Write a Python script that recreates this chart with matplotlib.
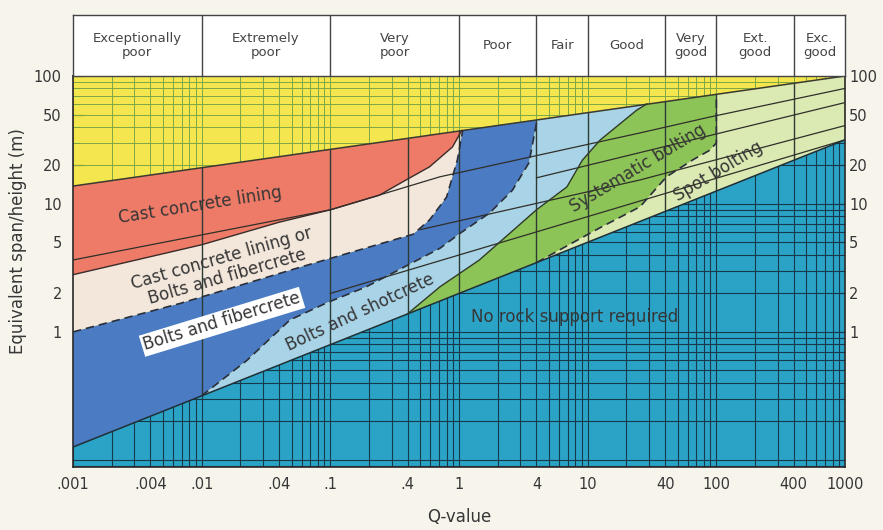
import matplotlib
matplotlib.use("Agg")
import matplotlib.pyplot as plt
from matplotlib.patches import Polygon

# ---------------- data ----------------
class_bounds = [0.001, 0.01, 0.1, 1, 4, 10, 40, 100, 400, 1000]
class_names = ["Exceptionally\npoor", "Extremely\npoor", "Very\npoor", "Poor", "Fair",
               "Good", "Very\ngood", "Ext.\ngood", "Exc.\ngood"]

x_ticks = [0.001, 0.004, 0.01, 0.04, 0.1, 0.4, 1, 4, 10, 40, 100, 400, 1000]
x_tick_labels = [".001", ".004", ".01", ".04", ".1", ".4", "1", "4", "10", "40", "100", "400", "1000"]
y_ticks = [1, 2, 5, 10, 20, 50, 100]
y_tick_labels = ["1", "2", "5", "10", "20", "50", "100"]

# boundary curves (Q, span)
top_q = [0.001, 1000]
top_s = [13.8, 100]
nosup_q = [0.001, 1000]
nosup_s = [0.126, 31.7]
red_white_q = [0.001, 0.01, 0.04, 0.1, 0.24, 0.37, 0.59, 0.89, 1.05]
red_white_s = [2.8, 4.8, 7.2, 9.0, 11.7, 15.0, 19.5, 27.9, 37.5]
white_blue_q = [0.001, 0.0068, 0.058, 0.44, 0.59, 0.80, 0.97, 1.07]
white_blue_s = [1.0, 1.67, 3.2, 5.8, 7.5, 11.3, 22.0, 37.8]
blue_lblue_q = [0.01, 0.0225, 0.0485, 0.094, 0.19, 0.71, 1.02, 1.73, 2.6, 3.5, 4.05]
blue_lblue_s = [0.317, 0.6, 1.24, 1.69, 2.25, 4.5, 5.9, 8.5, 12.8, 21.0, 45.5]
lblue_green_q = [0.4, 0.71, 1.44, 4.0, 6.9, 9.1, 12.5, 24.0, 28.8]
lblue_green_s = [1.39, 2.25, 3.65, 9.0, 13.6, 22.0, 31.6, 54.0, 60.5]
green_lgreen_q = [4.0, 12.4, 25.5, 41, 65, 89, 100, 100]
green_lgreen_s = [3.48, 6.5, 9.5, 16.3, 22.0, 26.3, 30.0, 71.8]

# category lines of the original chart
fan1_q = [0.001, 0.1, 0.71, 25.5, 89, 1000]
fan1_s = [3.65, 9.0, 16.3, 35.9, 47.8, 80]
fan2_q = [4, 1000]
fan2_s = [16.0, 62]
fan3_q = [0.5, 25.5, 1000]
fan3_s = [6.3, 15.4, 41]
fan4_q = [0.1, 1000]
fan4_s = [2.0, 31.7]
major_q = [0.01, 0.1, 0.4, 1, 4, 10, 40, 100, 400]

# ---------------- style ----------------
C_BG = "#f7f4ec"
C_YEL = "#f3e64e"
C_RED = "#ee7b68"
C_WHITE = "#f3e7dc"
C_DBLUE = "#4a7bc3"
C_LBLUE = "#a9d3e6"
C_GREEN = "#8dc457"
C_LGREEN = "#dbe9b3"
C_TEAL = "#2ba3c7"
C_INK = "#363636"

W, H = 883, 530
fig = plt.figure(figsize=(W / 100, H / 100), dpi=100, facecolor=C_BG)
L, R, T, B = 73, 845, 76, 467
ax = fig.add_axes([L / W, 1 - B / H, (R - L) / W, (B - T) / H])
ax.set_xscale("log")
ax.set_yscale("log")
ax.set_xlim(0.001, 1000)
ax.set_ylim(0.088, 100)
ax.set_facecolor(C_YEL)

def pts(q, s):
    return list(zip(q, s))

def rev(q, s):
    return list(zip(q[::-1], s[::-1]))

# teal region
teal_poly = Polygon(pts(nosup_q, nosup_s) + [(1000, 0.05), (0.001, 0.05)],
                    closed=True, facecolor=C_TEAL, edgecolor="none", zorder=1)
ax.add_patch(teal_poly)

# grid
vq = []
for k in range(-3, 3):
    for n in range(1, 10):
        vq.append(n * 10.0 ** k)
vq.append(1000)
hs = []
for k in range(-2, 2):
    for n in range(1, 10):
        hs.append(n * 10.0 ** k)
hs += [100]
ax.vlines(vq, 0.05, 200, colors="#7ea745", linewidth=0.7, zorder=2)
ax.hlines(hs, 0.0005, 2000, colors="#7ea745", linewidth=0.7, zorder=2)
gv = ax.vlines(vq, 0.05, 200, colors="#17394a", linewidth=0.8, zorder=2.1)
gh = ax.hlines(hs, 0.0005, 2000, colors="#17394a", linewidth=0.8, zorder=2.1)
gv.set_clip_path(teal_poly)
gh.set_clip_path(teal_poly)

# support regions
ax.add_patch(Polygon(pts(top_q, top_s)[:1] + [(1.05, 37.4)] + rev(red_white_q, red_white_s),
                     closed=True, facecolor=C_RED, edgecolor="none", zorder=3))
ax.add_patch(Polygon(pts(red_white_q, red_white_s) + rev(white_blue_q, white_blue_s),
                     closed=True, facecolor=C_WHITE, edgecolor="none", zorder=3))
ax.add_patch(Polygon([(0.001, 0.126)] + pts(white_blue_q, white_blue_s) +
                     rev(blue_lblue_q, blue_lblue_s),
                     closed=True, facecolor=C_DBLUE, edgecolor="none", zorder=3))
ax.add_patch(Polygon(pts(blue_lblue_q, blue_lblue_s) + rev(lblue_green_q, lblue_green_s),
                     closed=True, facecolor=C_LBLUE, edgecolor="none", zorder=3))
ax.add_patch(Polygon(pts(lblue_green_q, lblue_green_s) + [(100, 71.8)] +
                     rev(green_lgreen_q, green_lgreen_s),
                     closed=True, facecolor=C_GREEN, edgecolor="none", zorder=3))
ax.add_patch(Polygon(pts(green_lgreen_q, green_lgreen_s) + [(1000, 100), (1000, 31.7)],
                     closed=True, facecolor=C_LGREEN, edgecolor="none", zorder=3))

support_clip = Polygon(pts(top_q, top_s) + rev(nosup_q, nosup_s), closed=True,
                       transform=ax.transData)

# major verticals and category lines inside the support zone
mv = ax.vlines(major_q, 0.05, 200, colors="#2e3b35", linewidth=1.0, zorder=4)
mv.set_clip_path(support_clip)
for fq, fs in [(fan1_q, fan1_s), (fan2_q, fan2_s), (fan3_q, fan3_s), (fan4_q, fan4_s)]:
    ln, = ax.plot(fq, fs, color="#2f2f2a", linewidth=0.9, zorder=4)
    ln.set_clip_path(support_clip)

# boundaries
ax.plot(top_q, top_s, color="#3a3a30", linewidth=1.1, zorder=5)
ax.plot(nosup_q, nosup_s, color="#1f2f35", linewidth=1.1, zorder=5)
ax.plot(red_white_q, red_white_s, color="#3a2a2a", linewidth=1.0, zorder=5)
ax.plot(lblue_green_q, lblue_green_s, color="#2f3a2a", linewidth=1.0, zorder=5)
for bq, bs in [(white_blue_q, white_blue_s), (blue_lblue_q, blue_lblue_s),
               (green_lgreen_q, green_lgreen_s)]:
    ax.plot(bq, bs, color="#2a2f3a", linewidth=1.2, linestyle=(0, (5, 3)), zorder=5)

# region labels
tk = dict(color=C_INK, fontsize=12, ha="center", va="center", zorder=6,
          rotation_mode="anchor")
ax.text(0.0097, 9.8, "Cast concrete lining", rotation=9, **tk)
ax.text(0.015, 3.16, "Cast concrete lining or\nBolts and fibercrete", rotation=16,
        linespacing=1.05, **tk)
ax.text(0.0144, 1.2, "Bolts and fibercrete", rotation=17,
        bbox=dict(boxstyle="square,pad=0.12", facecolor="white", edgecolor="none"), **tk)
ax.text(0.17, 1.43, "Bolts and shotcrete", rotation=25, **tk)
ax.text(24.5, 19.1, "Systematic bolting", rotation=31, **tk)
ax.text(103, 17.8, "Spot bolting", rotation=31, **tk)
ax.text(7.9, 1.31, "No rock support required", rotation=0, **tk)

# axes
ax.set_xticks(x_ticks)
ax.set_xticklabels(x_tick_labels)
ax.xaxis.set_minor_locator(matplotlib.ticker.NullLocator())
ax.set_yticks(y_ticks)
ax.set_yticklabels(y_tick_labels)
ax.yaxis.set_minor_locator(matplotlib.ticker.LogLocator(base=10, subs=range(2, 10)))
ax.yaxis.set_minor_formatter(matplotlib.ticker.NullFormatter())
ax.tick_params(axis="x", length=0, pad=7, labelsize=10.5, labelcolor=C_INK)
ax.tick_params(axis="y", which="both", direction="in", left=True, right=True,
               labelleft=True, labelright=False, labelsize=10.5, labelcolor=C_INK,
               color="#333333", pad=8)
ax.tick_params(axis="y", which="major", length=8)
ax.tick_params(axis="y", which="minor", length=5)
for sp in ax.spines.values():
    sp.set_color("#2a2a2a")
    sp.set_linewidth(1.2)
    sp.set_zorder(7)

# right-hand labels
sec = ax.secondary_yaxis("right")
sec.set_yticks(y_ticks)
sec.set_yticklabels(y_tick_labels)
sec.yaxis.set_minor_locator(matplotlib.ticker.NullLocator())
sec.tick_params(axis="y", which="both", length=0, pad=3, labelsize=10.5,
                labelcolor=C_INK)
sec.spines["right"].set_visible(False)

ax.set_xlabel("Q-value", fontsize=12, color=C_INK, labelpad=12)
fig.text(18 / W, 1 - 241 / H, "Equivalent span/height (m)", rotation=90,
         ha="center", va="center", fontsize=12, color=C_INK)

# header band
hx = fig.add_axes([L / W, 1 - T / H, (R - L) / W, (T - 15) / H])
hx.set_xscale("log")
hx.set_xlim(0.001, 1000)
hx.set_ylim(0, 1)
hx.set_facecolor("white")
hx.set_xticks([])
hx.set_yticks([])
hx.minorticks_off()
for sp in hx.spines.values():
    sp.set_color("#444444")
    sp.set_linewidth(1.0)
hx.vlines(class_bounds[1:-1], 0, 1, colors="#444444", linewidth=1.0)
for i, name in enumerate(class_names):
    lo, hi = class_bounds[i], class_bounds[i + 1]
    xc = (lo * hi) ** 0.5
    hx.text(xc, 0.5, name, ha="center", va="center", fontsize=9.5, color="#444444",
            linespacing=1.15)

fig.savefig("out.png", dpi=100, facecolor=C_BG)
